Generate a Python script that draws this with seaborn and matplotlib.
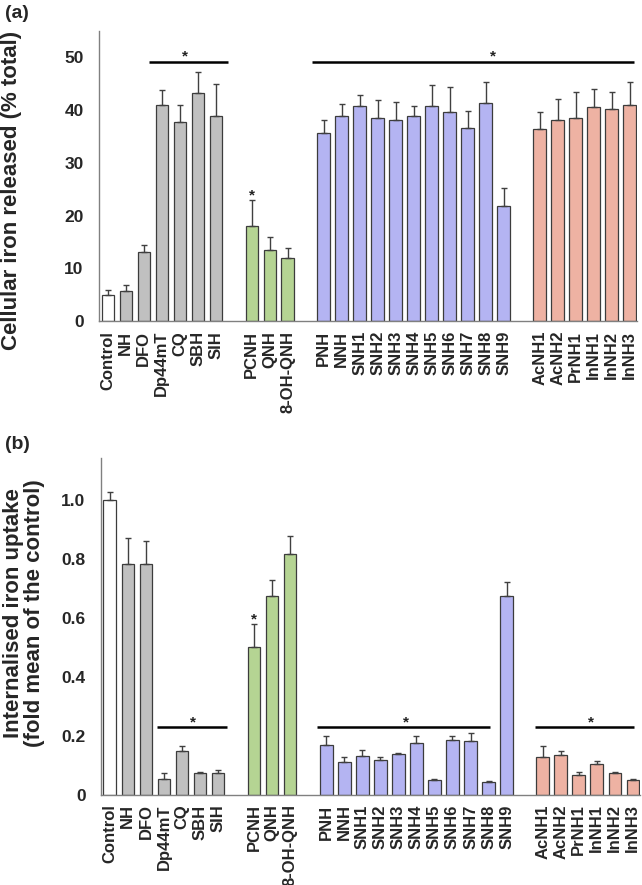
import numpy as np
import pandas as pd
import matplotlib
matplotlib.use("Agg")
import matplotlib.pyplot as plt
import seaborn as sns

# compuestos (mismo orden en los dos paneles)
compuestos = ['Control', 'NH', 'DFO', 'Dp44mT', 'CQ', 'SBH', 'SIH',
              'PCNH', 'QNH', '8-OH-QNH',
              'PNH', 'NNH', 'SNH1', 'SNH2', 'SNH3', 'SNH4', 'SNH5', 'SNH6', 'SNH7', 'SNH8', 'SNH9',
              'AcNH1', 'AcNH2', 'PrNH1', 'InNH1', 'InNH2', 'InNH3']
grupos = ['ctrl'] + ['ref'] * 6 + ['quin'] * 3 + ['snh'] * 11 + ['ac'] * 6

# (a) hierro celular liberado (% total)
liberado = [5.0, 5.8, 13.2, 41.0, 37.8, 43.2, 38.9,
            18.1, 13.5, 12.0,
            35.7, 38.9, 40.7, 38.6, 38.1, 38.8, 40.7, 39.6, 36.7, 41.4, 21.8,
            36.5, 38.1, 38.5, 40.6, 40.2, 40.9]
liberado_err = [1.0, 1.1, 1.2, 2.9, 3.1, 4.0, 6.1,
                4.8, 2.4, 1.8,
                2.4, 2.3, 2.2, 3.4, 3.5, 1.9, 4.1, 4.7, 3.2, 3.9, 3.5,
                3.2, 4.1, 4.9, 3.5, 3.2, 4.4]

# (b) captación de hierro internalizado (veces la media del control)
captacion = [1.0, 0.783, 0.783, 0.054, 0.149, 0.075, 0.073,
             0.50, 0.676, 0.817,
             0.169, 0.110, 0.130, 0.119, 0.138, 0.175, 0.050, 0.185, 0.182, 0.043, 0.674,
             0.129, 0.135, 0.068, 0.104, 0.073, 0.050]
captacion_err = [0.029, 0.088, 0.080, 0.021, 0.016, 0.003, 0.011,
                 0.080, 0.053, 0.060,
                 0.032, 0.019, 0.021, 0.010, 0.005, 0.023, 0.003, 0.016, 0.026, 0.004, 0.050,
                 0.036, 0.015, 0.010, 0.012, 0.004, 0.004]

colores = {'ctrl': '#ffffff', 'ref': '#c0c0c0', 'quin': '#b5df88',
           'snh': '#aaaafc', 'ac': '#fbaa96'}

# orden con huecos entre familias
orden = compuestos[:7] + [' '] + compuestos[7:10] + ['  '] + compuestos[10:21] + ['   '] + compuestos[21:]
pos = {n: orden.index(n) for n in compuestos}
xs = np.array([pos[n] for n in compuestos])

df = pd.DataFrame({'compuesto': compuestos, 'grupo': grupos,
                   'liberado': liberado, 'liberado_err': liberado_err,
                   'captacion': captacion, 'captacion_err': captacion_err})

sns.set_style("white")
plt.rcParams['font.family'] = ['Liberation Sans', 'DejaVu Sans']
plt.rcParams['font.weight'] = 'bold'

fig = plt.figure(figsize=(6.42, 8.85), dpi=100)
ax1 = fig.add_axes([0.154, 0.637, 0.838, 0.328])
ax2 = fig.add_axes([0.157, 0.102, 0.840, 0.381])


def panel(ax, col, ylim, yticks, yticklabels, ylabel):
    sns.barplot(data=df, x='compuesto', y=col, hue='grupo', palette=colores,
                order=orden, dodge=False, width=0.7, edgecolor='#3c3c3c',
                linewidth=0.9, errorbar=None, legend=False, ax=ax)
    err = df[col + '_err'].to_numpy()
    ax.errorbar(xs, df[col], yerr=[np.zeros_like(err), err], fmt='none',
                ecolor='#404040', elinewidth=1.0, capsize=2, capthick=1.0)
    ax.set_xlim(-0.5, 29.4)
    ax.set_ylim(*ylim)
    ax.set_yticks(yticks)
    ax.set_yticklabels(yticklabels, fontsize=12.5, fontweight='bold')
    ax.set_xticks(range(len(orden)))
    ax.set_xticklabels(orden, rotation=90, fontsize=12, fontweight='bold')
    ax.tick_params(axis='x', length=0, pad=7)
    ax.tick_params(axis='y', length=3, width=1, color='#808080', direction='out', pad=8)
    ax.set_xlabel('')
    ax.set_ylabel(ylabel, fontsize=16, fontweight='bold', linespacing=1.0)
    for s in ['top', 'right']:
        ax.spines[s].set_visible(False)
    for s in ['left', 'bottom']:
        ax.spines[s].set_color('#808080')
        ax.spines[s].set_linewidth(1.0)


def estrella(ax, x, y, dy=0):
    ax.annotate('*', (x, y), xytext=(0, dy), textcoords='offset points',
                ha='center', va='baseline', fontsize=11, color='#222222')


def barra_sig(ax, x0, x1, y, xstar):
    ax.plot([x0, x1], [y, y], color='black', lw=1.8, solid_capstyle='butt')
    estrella(ax, xstar, y, dy=0.5)


panel(ax1, 'liberado', (0, 55), [0, 10, 20, 30, 40, 50],
      ['0', '10', '20', '30', '40', '50'], 'Cellular iron released (% total)')
barra_sig(ax1, 2.26, 6.67, 49.2, 4.3)
barra_sig(ax1, 11.37, 29.24, 49.2, 21.4)
i = compuestos.index('PCNH')
estrella(ax1, xs[i], liberado[i] + liberado_err[i], dy=0.5)

panel(ax2, 'captacion', (0, 1.145), [0, 0.2, 0.4, 0.6, 0.8, 1.0],
      ['0', '0.2', '0.4', '0.6', '0.8', '1.0'],
      'Internalised iron uptake\n(fold mean of the control)')
barra_sig(ax2, 2.63, 6.48, 0.23, 4.6)
barra_sig(ax2, 11.48, 21.1, 0.23, 16.4)
barra_sig(ax2, 23.57, 29.07, 0.23, 26.65)
estrella(ax2, xs[i], captacion[i] + captacion_err[i], dy=0.5)

ax1.yaxis.set_label_coords(-0.143, 0.45)
ax2.yaxis.set_label_coords(-0.104, 0.54)

fig.text(0.008, 0.994, '(a)', fontsize=14, fontweight='bold', va='top', ha='left')
fig.text(0.008, 0.507, '(b)', fontsize=14, fontweight='bold', va='top', ha='left')

fig.savefig('out.png', dpi=100)
